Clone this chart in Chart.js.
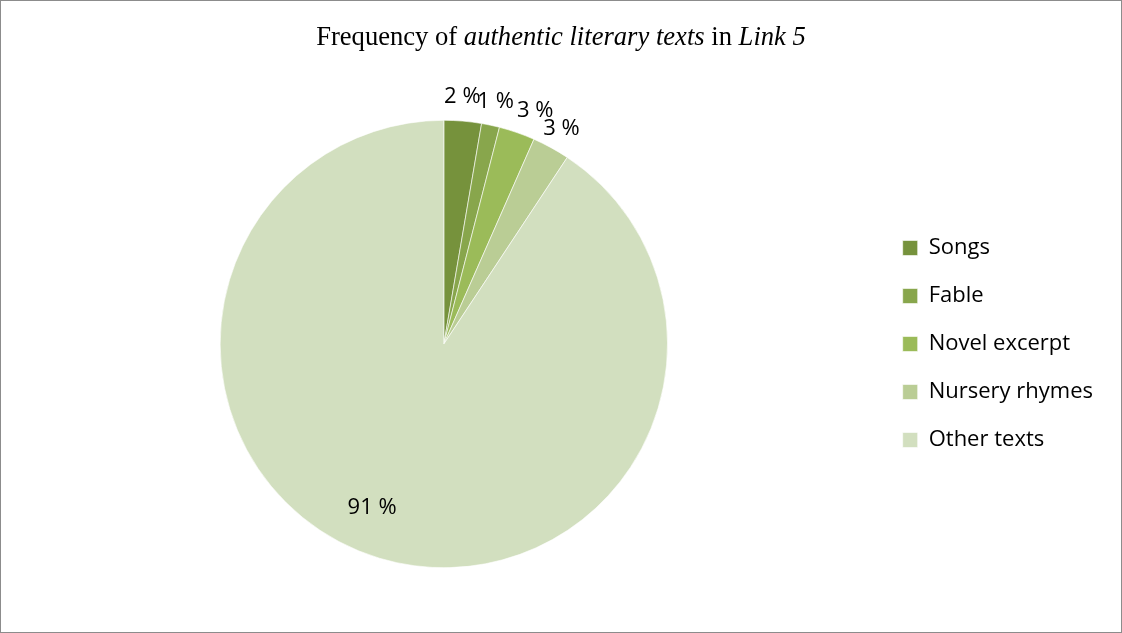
<!DOCTYPE html>
<html>
<head>
<meta charset="utf-8">
<script src="https://cdn.jsdelivr.net/npm/chart.js@4"></script>
<style>
  html, body { margin: 0; padding: 0; background: #fff; }
  #wrap { width: 1122px; height: 633px; box-sizing: border-box; border: 1px solid #8c8c8c; }
  #wrap canvas { display: block; }
</style>
</head>
<body>
<div id="wrap"><canvas id="pasta" width="1120" height="631"></canvas></div>
<script>
// veriler
var metinTurleri = ["Songs", "Fable", "Novel excerpt", "Nursery rhymes", "Other texts"];
var dilimDegerleri = [2.7, 1.3, 2.6, 2.7, 90.7];
var etiketMetinleri = ["2 %", "1 %", "3 %", "3 %", "91 %"];
var dilimRenkleri = ["#76923c", "#88a64c", "#9bbb59", "#bacd95", "#d2dfbf"];

var baslikParcalari = [
  ["Frequency of ", false],
  ["authentic literary texts", true],
  [" in ", false],
  ["Link 5", true]
];

/*BASLIK VE ETIKETLER*/
var yaziEklentisi = {
  id: "yaziEklentisi",
  afterDraw: function (chart) {
    var ctx = chart.ctx;
    ctx.save();
    // baslik
    var toplam = 0;
    for (var i = 0; i < baslikParcalari.length; i++) {
      ctx.font = (baslikParcalari[i][1] ? "italic " : "") + "26.6px 'Liberation Serif'";
      toplam += ctx.measureText(baslikParcalari[i][0]).width;
    }
    var x = chart.width / 2 - toplam / 2;
    ctx.fillStyle = "#000";
    ctx.textBaseline = "middle";
    ctx.textAlign = "left";
    for (var i = 0; i < baslikParcalari.length; i++) {
      ctx.font = (baslikParcalari[i][1] ? "italic " : "") + "26.6px 'Liberation Serif'";
      ctx.fillText(baslikParcalari[i][0], x, 37);
      x += ctx.measureText(baslikParcalari[i][0]).width;
    }

    // dilim etiketleri
    var meta = chart.getDatasetMeta(0);
    ctx.font = "22px 'Open Sans'";
    ctx.textAlign = "center";
    var kaydirma = [-0.01, 0, 0.04, 0.0, 0.12];
    var mesafe = [24, 24, 27, 22, 0];
    for (var i = 0; i < meta.data.length; i++) {
      var yay = meta.data[i];
      var orta = (yay.startAngle + yay.endAngle) / 2 + kaydirma[i];
      var uzaklik = i < 4 ? yay.outerRadius + mesafe[i] : yay.outerRadius * 0.8;
      var lx = yay.x + Math.cos(orta) * uzaklik;
      var ly = yay.y + Math.sin(orta) * uzaklik;
      ctx.fillText(etiketMetinleri[i], lx, ly);
    }
    ctx.restore();
  }
};

var ctx = document.getElementById("pasta");
var myChart = new Chart(ctx, {
  type: "pie",
  data: {
    labels: metinTurleri,
    datasets: [{
      data: dilimDegerleri,
      backgroundColor: dilimRenkleri,
      borderColor: "#ffffff",
      borderWidth: 0.6
    }]
  },
  options: {
    responsive: false,
    animation: false,
    layout: {
      padding: { top: 119, bottom: 64, left: 10, right: 18 }
    },
    plugins: {
      title: { display: false },
      tooltip: { enabled: false },
      legend: {
        position: "right",
        labels: {
          boxWidth: 15,
          boxHeight: 15,
          padding: 26,
          color: "#000",
          font: { family: "'Open Sans'", size: 22 }
        }
      }
    }
  },
  plugins: [yaziEklentisi]
});
</script>
</body>
</html>
